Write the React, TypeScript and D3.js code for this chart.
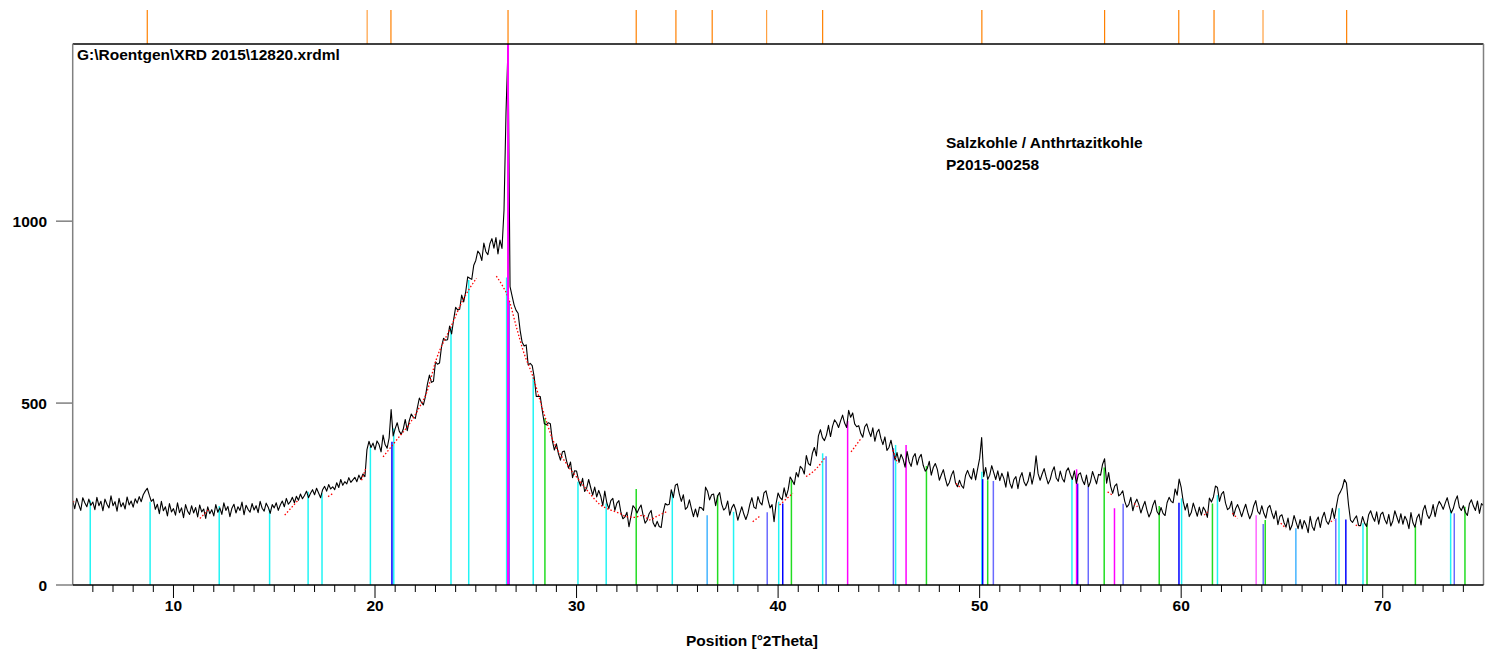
import React from 'react';
import * as d3 from 'd3';

// ---------- data ----------
const START_2THETA = 5;
const STEP_2THETA = 0.1;

const intensity: number[] = [
  // 5.0 - 9.9
  232, 210, 238, 221, 205, 240, 226, 215, 236, 219,
  228, 207, 241, 218, 230, 204, 236, 222, 212, 245,
  218, 229, 203, 238, 215, 226, 209, 242, 220, 231,
  214, 237, 225, 243, 229, 248, 258, 266, 247, 230,
  236, 208, 222, 196, 230, 204, 215, 190, 224, 201,
  // 10
  210, 192, 226, 199, 212, 185, 221, 203, 194, 218,
  198, 213, 187, 220, 201, 209, 183, 215, 196, 207,
  190, 221, 200, 212, 194, 226, 205, 216, 188, 211,
  222, 198, 215, 205, 228, 193, 219, 208, 200, 224,
  206, 218, 199, 230, 211, 203, 225, 214, 197, 221,
  // 15
  212, 226, 205, 220, 231, 215, 238, 222, 229, 241,
  226, 244, 233, 250, 237, 246, 258, 240, 252, 262,
  248, 266, 253, 240, 262, 271, 258, 276, 264, 270,
  262, 281, 268, 290, 274, 284, 278, 295, 282, 289,
  296, 284, 302, 290, 305, 298, 372, 395, 378, 390,
  // 20
  372, 396, 386, 366, 412, 386, 376, 404, 482, 410,
  430, 446, 423, 414, 428, 455, 424, 452, 470, 461,
  458, 487, 514, 502, 495, 518, 552, 577, 557, 560,
  613, 607, 610, 655, 678, 673, 674, 712, 690, 729,
  763, 756, 758, 797, 778, 806, 847, 843, 840, 879,
  // 25
  892, 918, 910, 892, 940, 916, 908, 938, 952, 926,
  955, 910, 948, 925, 1030, 1300, 1480, 820, 795, 770,
  755, 747, 700, 667, 657, 660, 605, 609, 603, 571,
  518, 519, 518, 479, 444, 440, 446, 443, 396, 371,
  388, 361, 343, 366, 368, 342, 321, 338, 295, 314,
  // 30
  313, 288, 272, 293, 257, 266, 290, 268, 247, 269,
  242, 260, 244, 218, 258, 226, 210, 232, 238, 205,
  225, 232, 200, 182, 187, 200, 160, 189, 218, 211,
  198, 210, 220, 193, 170, 178, 196, 205, 171, 160,
  175, 161, 158, 200, 224, 220, 222, 262, 240, 274,
  // 35
  278, 250, 230, 248, 208, 214, 234, 210, 188, 209,
  187, 214, 212, 205, 269, 258, 234, 248, 250, 218,
  245, 254, 223, 206, 212, 231, 192, 212, 222, 206,
  178, 197, 215, 195, 180, 196, 222, 240, 214, 210,
  243, 227, 220, 253, 259, 234, 212, 221, 174, 224,
  // 40
  253, 240, 234, 267, 242, 262, 297, 287, 276, 309,
  297, 326, 320, 305, 356, 334, 329, 362, 378, 355,
  410, 427, 405, 397, 412, 439, 408, 436, 454, 446,
  433, 451, 467, 445, 433, 480, 461, 473, 443, 435,
  438, 417, 406, 435, 443, 423, 408, 432, 395, 419,
  // 45
  428, 403, 386, 407, 370, 378, 398, 371, 344, 364,
  337, 359, 346, 324, 367, 339, 326, 352, 361, 330,
  350, 359, 329, 313, 320, 340, 302, 323, 334, 318,
  288, 303, 317, 292, 272, 282, 302, 314, 281, 270,
  288, 273, 266, 301, 315, 300, 291, 320, 289, 319,
  // 50
  348, 405, 298, 323, 290, 302, 328, 309, 290, 314,
  287, 307, 293, 269, 311, 280, 266, 290, 298, 265,
  295, 309, 284, 273, 285, 310, 277, 303, 355, 306,
  288, 305, 320, 297, 278, 290, 312, 325, 294, 285,
  313, 293, 283, 313, 322, 304, 290, 314, 279, 304,
  // 55
  308, 288, 276, 302, 270, 284, 312, 295, 278, 304,
  302, 332, 347, 280, 309, 271, 252, 272, 278, 245,
  250, 259, 230, 214, 221, 241, 204, 225, 236, 221,
  198, 215, 230, 206, 187, 199, 220, 233, 202, 193,
  213, 197, 191, 226, 241, 230, 226, 264, 247, 291,
  // 60
  268, 230, 206, 224, 188, 199, 225, 207, 189, 214,
  192, 214, 204, 186, 239, 228, 242, 272, 268, 230,
  250, 257, 225, 207, 212, 230, 190, 210, 221, 206,
  188, 206, 222, 200, 182, 195, 218, 232, 202, 195,
  218, 197, 184, 212, 219, 198, 182, 204, 166, 189,
  // 65
  193, 172, 159, 184, 151, 164, 191, 173, 155, 180,
  154, 177, 165, 144, 189, 161, 150, 176, 187, 158,
  185, 200, 176, 167, 182, 211, 183, 216, 246, 256,
  268, 290, 280, 222, 178, 172, 182, 190, 164, 163,
  188, 170, 161, 193, 204, 187, 175, 201, 167, 194,
  // 70
  200, 180, 168, 194, 162, 176, 204, 187, 170, 196,
  167, 189, 177, 155, 199, 171, 159, 185, 195, 165,
  205, 219, 194, 183, 195, 221, 188, 214, 230, 221,
  208, 225, 240, 217, 198, 210, 232, 245, 214, 205,
  218, 200, 191, 223, 234, 217, 205, 231, 197, 224,
  // 75
  218,
];

// fitted profile (red dotted) pieces: [2theta, counts]
const fitPieces: [number, number][][] = [
  [[5.0, 229], [5.15, 229]],
  [[11.31, 183], [11.72, 206]],
  [[15.52, 192], [16.18, 233]],
  [[17.67, 243], [17.92, 252]],
  [[19.33, 288], [19.54, 320]],
  [[20.40, 352], [21.06, 398], [21.72, 444], [22.22, 490], [22.55, 527], [23.04, 620], [23.77, 710], [24.36, 783], [25.03, 843]],
  [[26.02, 849], [26.35, 820], [26.6, 792], [27.01, 710], [27.34, 646], [27.84, 572], [28.33, 481], [28.83, 398], [29.49, 334], [30.1, 290], [30.65, 252], [31.14, 222], [31.7, 206], [32.14, 197], [32.47, 188], [32.9, 186], [33.29, 192], [33.62, 179], [33.95, 188], [34.45, 201]],
  [[38.74, 174], [39.07, 188]],
  [[40.07, 220], [40.73, 252]],
  [[41.39, 298], [41.9, 320], [42.30, 348]],
  [[43.62, 366], [44.12, 403]],
  [[45.69, 371], [45.93, 334]],
  [[48.83, 279], [49.08, 266]],
  [[56.35, 256], [56.59, 247]],
  [[57.67, 224], [57.83, 215]],
  [[61.14, 192], [61.31, 201]],
  [[62.54, 197], [62.79, 183]],
  [[64.94, 170], [65.19, 156]],
  [[67.42, 174], [67.59, 179]],
  [[68.66, 165], [68.83, 160]],
];

// reference pattern sticks: [2theta, counts]
const phaseCyan: [number, number][] = [
  [5.87, 232], [8.84, 229], [12.27, 217], [14.77, 208], [16.68, 256], [17.37, 252],
  [19.77, 380], [20.93, 430], [23.77, 710], [24.65, 838], [26.53, 845], [27.85, 572],
  [30.07, 284], [31.47, 224], [34.75, 256], [37.79, 201], [40.03, 229], [42.21, 362],
  [45.83, 385], [50.11, 311], [54.58, 293], [60.02, 238], [61.8, 247], [67.83, 211],
  [69.02, 170], [73.37, 206],
];
const phaseBlue: [number, number][] = [
  [20.84, 394], [26.64, 780], [40.23, 224], [50.15, 291], [54.86, 279], [59.89, 226], [68.17, 180],
];
const phaseSlate: [number, number][] = [
  [39.46, 200], [42.38, 354], [45.72, 376], [50.68, 286], [55.39, 272], [57.12, 223],
  [64.07, 168], [67.67, 183], [73.55, 197],
];
const phaseGreen: [number, number][] = [
  [28.43, 458], [32.96, 264], [37.0, 247], [40.66, 288], [47.36, 327], [50.4, 288],
  [56.18, 323], [58.91, 217], [61.55, 224], [64.17, 179], [69.22, 170], [71.62, 162], [74.08, 215],
];
const phaseMagenta: [number, number][] = [
  [43.45, 451], [46.35, 385], [54.81, 318], [56.69, 211],
];
const phaseLightMagenta: [number, number][] = [[63.72, 192]];
const phaseLightBlue: [number, number][] = [[36.48, 192], [65.69, 156]];
const mainPeakStick: [number, number][] = [[26.6, 1487]];

// peak list markers on top
const peakListPos: number[] = [8.70, 19.61, 20.79, 26.60, 32.96, 34.93, 36.73, 39.43, 42.21, 50.11, 56.20, 59.88, 61.63, 64.06, 68.21];
const peakListLight: number[] = [19.61, 39.43, 64.06];

const xMajorTicks: number[] = [10, 20, 30, 40, 50, 60, 70];
const xMinorTicks: number[] = d3.range(6, 75, 1).filter((v) => v % 10 !== 0);
const yTicks: number[] = [0, 500, 1000];

const titleText = 'G:\\Roentgen\\XRD 2015\\12820.xrdml';
const sampleLines = ['Salzkohle / Anthrtazitkohle', 'P2015-00258'];
const xAxisTitle = 'Position [°2Theta]';

// ---------- chart ----------
const W = 1486;
const H = 652;
const L = 72.7;
const R = 1483.5;
const T = 44;
const B = 585;
const FONT = '"Liberation Sans", Arial, Helvetica, sans-serif';
const FS = 15.5;

export default function App() {
  const x = d3.scaleLinear().domain([5, 75]).range([L, R]);
  const y = d3.scaleLinear().domain([0, 1487]).range([B, T]);

  const pts: [number, number][] = intensity.map((v, i) => [START_2THETA + i * STEP_2THETA, v]);
  const line = d3
    .line<[number, number]>()
    .x((d) => x(d[0]))
    .y((d) => Math.max(T, y(d[1])));
  const fitLine = d3
    .line<[number, number]>()
    .x((d) => x(d[0]))
    .y((d) => y(d[1]))
    .curve(d3.curveMonotoneX);

  const sticks = (data: [number, number][], color: string, w = 1.5) =>
    data.map((d, i) => (
      <line
        key={color + i}
        x1={x(d[0])}
        x2={x(d[0])}
        y1={y(0)}
        y2={y(d[1])}
        stroke={color}
        strokeWidth={w}
      />
    ));

  return (
    <svg
      width={W}
      height={H}
      style={{ position: 'absolute', left: 0, top: 0, background: '#fff' }}
      fontFamily={FONT}
    >
      <rect x={0} y={0} width={W} height={H} fill="#fff" />

      {/* peak list markers */}
      {peakListPos.map((p, i) => (
        <line
          key={'pl' + i}
          x1={x(p)}
          x2={x(p)}
          y1={10}
          y2={T}
          stroke={peakListLight.includes(p) ? '#ffa040' : '#ff8000'}
          strokeWidth={1.2}
        />
      ))}

      {/* sticks */}
      {sticks(phaseCyan, '#22f4f4')}
      {sticks(phaseLightBlue, '#44b4ff')}
      {sticks(phaseSlate, '#6a6aff')}
      {sticks(phaseBlue, '#0000ff')}
      {sticks(phaseGreen, '#22dd22')}
      {sticks(phaseMagenta, '#ff00ff')}
      {sticks(phaseLightMagenta, '#ff66ff')}

      {/* measured pattern */}
      <path d={line(pts) || ''} fill="none" stroke="#000" strokeWidth={1.1} strokeLinejoin="round" />

      {/* fitted profile */}
      {fitPieces.map((p, i) => (
        <path
          key={'fit' + i}
          d={fitLine(p) || ''}
          fill="none"
          stroke="#ff0000"
          strokeWidth={1.3}
          strokeDasharray="1.5 2"
        />
      ))}

      {sticks(mainPeakStick, '#ff00ff', 2)}

      {/* frame */}
      <line x1={L} x2={R} y1={T} y2={T} stroke="#000" strokeWidth={1.5} />
      <line x1={L} x2={L} y1={T} y2={B} stroke="#808080" strokeWidth={1.5} />
      <line x1={R} x2={R} y1={T} y2={B} stroke="#808080" strokeWidth={1.5} />
      <line x1={L} x2={R} y1={B} y2={B} stroke="#000" strokeWidth={1.5} />

      {/* y axis */}
      {yTicks.map((t) => (
        <g key={'yt' + t}>
          <line x1={56} x2={L} y1={y(t)} y2={y(t)} stroke="#808080" strokeWidth={1.5} />
          <text
            x={47}
            y={y(t)}
            dy="0.36em"
            textAnchor="end"
            fontSize={FS}
            fontWeight="bold"
            fill="#000"
          >
            {t}
          </text>
        </g>
      ))}

      {/* x axis */}
      {xMinorTicks.map((t) => (
        <line key={'xm' + t} x1={x(t)} x2={x(t)} y1={B} y2={B + 7} stroke="#000" strokeWidth={1} />
      ))}
      {xMajorTicks.map((t) => (
        <g key={'xt' + t}>
          <line x1={x(t)} x2={x(t)} y1={B} y2={B + 13} stroke="#000" strokeWidth={1} />
          <text x={x(t)} y={611} textAnchor="middle" fontSize={FS} fontWeight="bold" fill="#000">
            {t}
          </text>
        </g>
      ))}
      <text x={752} y={646} textAnchor="middle" fontSize={FS} fontWeight="bold" fill="#000">
        {xAxisTitle}
      </text>

      {/* annotations */}
      <text x={77} y={60} fontSize={FS} fontWeight="bold" fill="#000">
        {titleText}
      </text>
      {sampleLines.map((s, i) => (
        <text key={'sl' + i} x={946} y={148 + i * 22} fontSize={FS} fontWeight="bold" fill="#000">
          {s}
        </text>
      ))}
    </svg>
  );
}
